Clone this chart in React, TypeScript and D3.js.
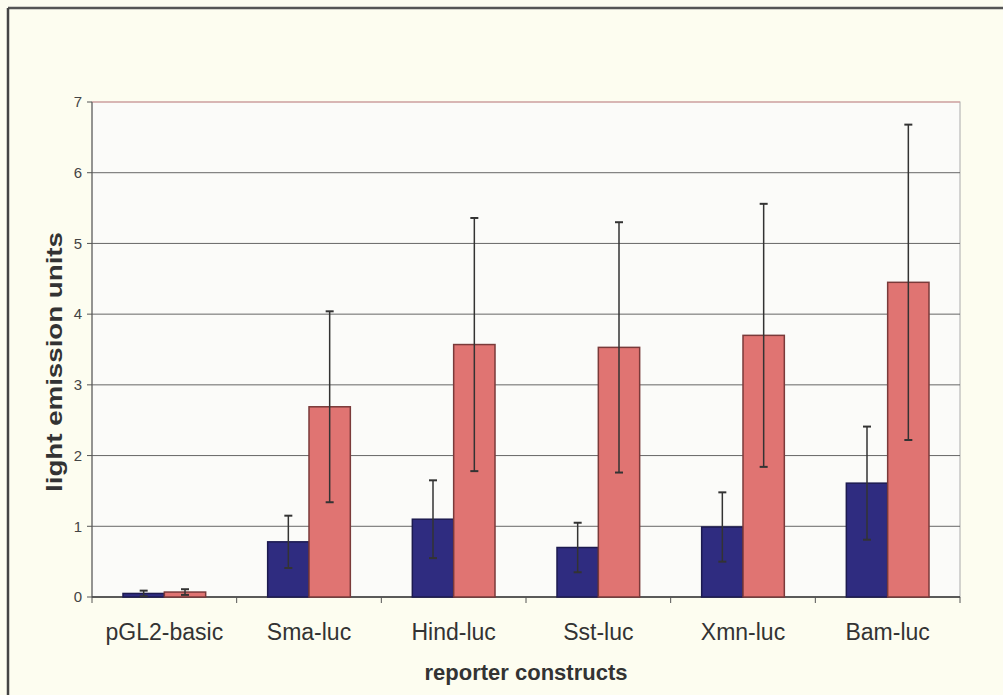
import React from "react";
import * as d3 from "d3";

const categories = ["pGL2-basic", "Sma-luc", "Hind-luc", "Sst-luc", "Xmn-luc", "Bam-luc"];
const blueValues = [0.05, 0.78, 1.1, 0.7, 0.99, 1.61];
const blueErrors = [0.04, 0.37, 0.55, 0.35, 0.49, 0.8];
const redValues = [0.07, 2.69, 3.57, 3.53, 3.7, 4.45];
const redErrors = [0.04, 1.35, 1.79, 1.77, 1.86, 2.23];
const yTicks = [0, 1, 2, 3, 4, 5, 6, 7];

const W = 1003, H = 695;
const plot = { left: 92, right: 960, top: 102, bottom: 597 };

export default function App() {
  const x = d3.scaleBand<string>().domain(categories).range([plot.left, plot.right]).paddingInner(0).paddingOuter(0);
  const y = d3.scaleLinear().domain([0, 7]).range([plot.bottom, plot.top]);
  const bw = x.bandwidth() / 3.5;
  const series = [
    { values: blueValues, errors: blueErrors, fill: "#2f2c80", stroke: "#1c1a50", offset: -bw },
    { values: redValues, errors: redErrors, fill: "#e07472", stroke: "#7a3a3a", offset: 0 },
  ];
  const font = "'Liberation Sans', Arial, sans-serif";
  return (
    <svg width={W} height={H} style={{ position: "absolute", left: 0, top: 0 }}>
      <rect x={0} y={0} width={W} height={H} fill="#fdfdf0" />
      <line x1={8} x2={W} y1={8} y2={8} stroke="#555" strokeWidth={2.5} />
      <line x1={8} x2={8} y1={8} y2={H} stroke="#444" strokeWidth={2.5} />
      <rect x={plot.left} y={plot.top} width={plot.right - plot.left} height={plot.bottom - plot.top} fill="#fbfbf9" stroke="#aaa" strokeWidth={1} />
      {yTicks.map((t) => (
        <g key={t}>
          <line x1={plot.left} x2={plot.right} y1={y(t)} y2={y(t)} stroke={t === 7 ? "#d99" : "#666"} strokeWidth={1} />
          <line x1={plot.left - 5} x2={plot.left} y1={y(t)} y2={y(t)} stroke="#555" />
          <text x={plot.left - 10} y={y(t)} dy="0.35em" textAnchor="end" fontFamily={font} fontSize={15} fill="#444">{t}</text>
        </g>
      ))}
      <line x1={plot.left} x2={plot.left} y1={plot.top} y2={plot.bottom} stroke="#555" />
      <line x1={plot.left} x2={plot.right} y1={plot.bottom} y2={plot.bottom} stroke="#444" strokeWidth={1.5} />
      {categories.map((c, i) => (
        <line key={"t" + i} x1={x(c)!} x2={x(c)!} y1={plot.bottom} y2={plot.bottom + 6} stroke="#555" />
      ))}
      <line x1={plot.right} x2={plot.right} y1={plot.bottom} y2={plot.bottom + 6} stroke="#555" />
      {series.map((s, si) =>
        categories.map((c, i) => {
          const cx = x(c)! + x.bandwidth() / 2 + s.offset;
          const v = s.values[i];
          const e = s.errors[i];
          const mid = cx + bw / 2;
          return (
            <g key={si + "-" + i}>
              <rect x={cx} y={y(v)} width={bw} height={y(0) - y(v)} fill={s.fill} stroke={s.stroke} strokeWidth={1.5} />
              <line x1={mid} x2={mid} y1={y(v + e)} y2={y(Math.max(0, v - e))} stroke="#333" strokeWidth={1.5} />
              <line x1={mid - 4} x2={mid + 4} y1={y(v + e)} y2={y(v + e)} stroke="#333" strokeWidth={2} />
              <line x1={mid - 4} x2={mid + 4} y1={y(Math.max(0, v - e))} y2={y(Math.max(0, v - e))} stroke="#333" strokeWidth={2} />
            </g>
          );
        })
      )}
      {categories.map((c) => (
        <text key={"l" + c} x={x(c)! + x.bandwidth() / 2} y={640} textAnchor="middle" fontFamily={font} fontSize={23} fill="#333">{c}</text>
      ))}
      <text x={(plot.left + plot.right) / 2} y={680} textAnchor="middle" fontFamily={font} fontSize={22} fontWeight="bold" fill="#333">reporter constructs</text>
      <text transform={`translate(54,362) rotate(-90)`} dy="0.35em" textAnchor="middle" fontFamily={font} fontSize={22} fontWeight="bold" fill="#333" textLength={260} lengthAdjust="spacingAndGlyphs">light emission units</text>
    </svg>
  );
}
